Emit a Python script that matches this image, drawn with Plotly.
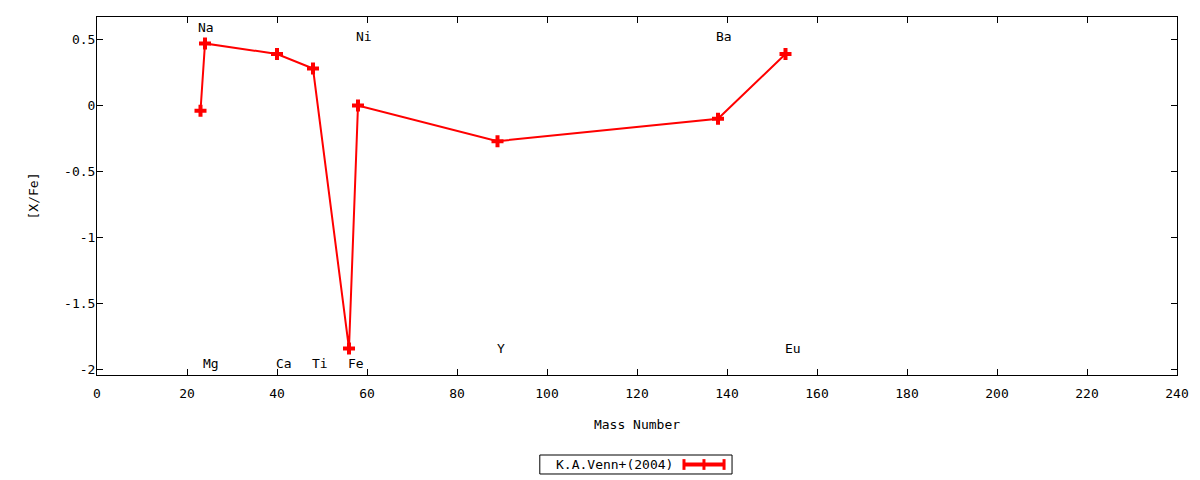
import plotly.graph_objects as go

# abundance pattern, K.A.Venn+(2004)
mass = [23, 24, 40, 48, 56, 58, 89, 138, 153]
xfe = [-0.04, 0.47, 0.39, 0.28, -1.84, 0.0, -0.27, -0.10, 0.39]

# element labels (left edge of text, data coords)
lab_text = ["Na", "Ni", "Ba", "Mg", "Ca", "Ti", "Fe", "Y", "Eu"]
lab_x = [22.2, 57.4, 137.4, 23.4, 39.5, 47.5, 55.6, 88.7, 152.7]
lab_y = [0.59, 0.52, 0.52, -1.95, -1.95, -1.95, -1.95, -1.84, -1.84]

xticks = list(range(0, 241, 20))
yticks = [0.5, 0, -0.5, -1, -1.5, -2]
yticklabels = ["0.5", "0", "-0.5", "-1", "-1.5", "-2"]

FONT = "DejaVu Sans Mono"
FS = 13
RED = "#ff0000"

fig = go.Figure()
fig.add_trace(go.Scatter(
    x=mass, y=xfe, mode="lines+markers", name="K.A.Venn+(2004)",
    line=dict(color=RED, width=2),
    marker=dict(symbol="cross", size=10, color=RED),
    showlegend=False,
))

for t, x, y in zip(lab_text, lab_x, lab_y):
    fig.add_annotation(x=x, y=y, text=t, showarrow=False, xanchor="left",
                       yanchor="middle", borderpad=0,
                       font=dict(family=FONT, size=FS, color="black"))

# gnuplot style key below the plot
fig.add_shape(type="rect", xref="paper", yref="paper",
              x0=0.410, x1=0.588, y0=-0.2765, y1=-0.2235,
              line=dict(color="black", width=1))
fig.add_annotation(xref="paper", yref="paper", x=0.424, y=-0.25,
                   text="K.A.Venn+(2004)", showarrow=False, xanchor="left",
                   yanchor="middle", borderpad=0,
                   font=dict(family=FONT, size=FS, color="black"))
fig.add_shape(type="line", xref="paper", yref="paper",
              x0=0.5426, x1=0.5815, y0=-0.25, y1=-0.25,
              line=dict(color=RED, width=4))
for px in [0.5435, 0.562, 0.5806]:
    fig.add_shape(type="line", xref="paper", yref="paper",
                  x0=px, x1=px, y0=-0.265, y1=-0.235,
                  line=dict(color=RED, width=3))

axis_common = dict(showline=True, linecolor="black", linewidth=1, mirror="ticks",
                   ticks="inside", ticklen=6, tickcolor="black", showgrid=False,
                   zeroline=False, tickfont=dict(family=FONT, size=FS, color="black"))

fig.update_xaxes(range=[0, 240], tickvals=xticks, ticklabelstandoff=6,
                 title=dict(text="Mass Number", font=dict(family=FONT, size=FS, color="black"),
                            standoff=20),
                 **axis_common)
fig.update_yaxes(range=[-2.04, 0.67], tickvals=yticks, ticktext=yticklabels,
                 ticklabelstandoff=-2,
                 title=dict(text="[X/Fe]", font=dict(family=FONT, size=FS, color="black"),
                            standoff=22),
                 **axis_common)

# page body has an 8px margin, so shrink the figure to keep the plot area in place
fig.update_layout(
    width=1192, height=472,
    margin=dict(l=89, r=23, t=9, b=105),
    plot_bgcolor="white", paper_bgcolor="white",
    font=dict(family=FONT, size=FS, color="black"),
)

fig.write_html("out.html")
